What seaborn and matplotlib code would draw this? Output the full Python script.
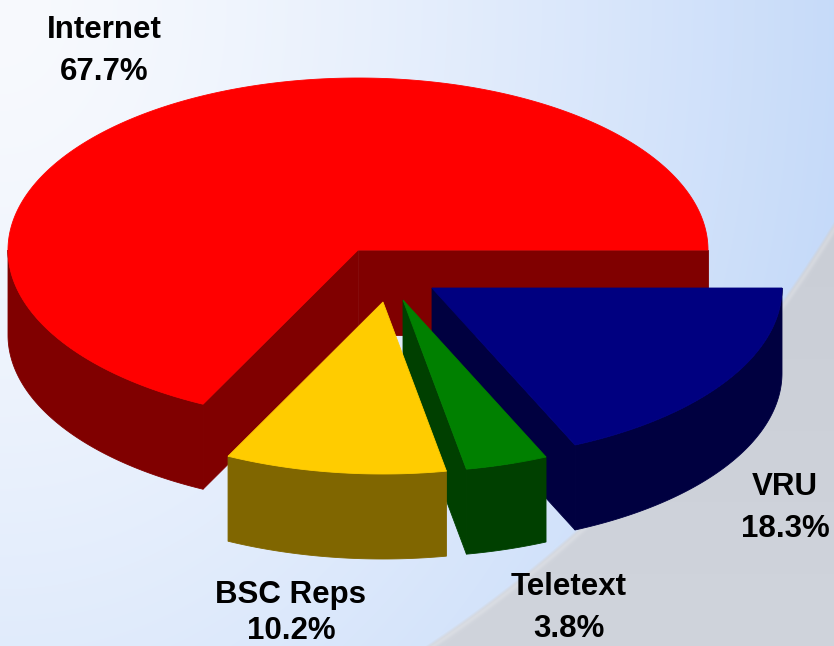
import numpy as np
import matplotlib
matplotlib.use("Agg")
import matplotlib.pyplot as plt
import seaborn as sns

# Channel share data (counter-clockwise from 3 o'clock)
categories = ["Internet", "BSC Reps", "Teletext", "VRU"]
shares = [67.7, 10.2, 3.8, 18.3]
top_colors = ["#FF0000", "#FFCC00", "#008000", "#000080"]
side_colors = ["#800000", "#806600", "#004000", "#000040"]

sns.set_theme(style="white")
plt.rcParams["font.family"] = ["Liberation Sans", "DejaVu Sans"]

W, H = 834, 646
fig = plt.figure(figsize=(W / 100, H / 100), dpi=100)
ax = fig.add_axes([0, 0, 1, 1])
ax.set_xlim(0, W)
ax.set_ylim(H, 0)
ax.axis("off")

# ---- backdrop: pale blue wash inside a large arc, grey outside ----
yy, xx = np.mgrid[0:H, 0:W] + 0.5
t = np.clip(np.hypot(0.85 * xx / W, 0.5 * yy / H), 0, 1) ** 1.4
t = t[..., None]
c0 = np.array([248, 250, 254]) / 255
c1 = np.array([186, 211, 248]) / 255
inner = c0 * (1 - t) + c1 * t
g = (yy / H)[..., None]
grey = (np.array([199, 203, 211]) / 255) * (1 - g) + (np.array([208, 212, 220]) / 255) * g
dist = np.hypot(xx + 326, yy + 486) - 1360
w = np.clip((dist + 1.5) / 3.0, 0, 1)[..., None]
bg = inner * (1 - w) + grey * w
# soft light rim along the arc
rim = np.exp(-((dist - 3) / 2.5) ** 2)[..., None] * 0.2
bg = np.clip(bg + rim * (1 - bg), 0, 1)
ax.imshow(bg, extent=(0, W, H, 0), zorder=0, interpolation="bilinear")

# ---- 3-D pie geometry ----
cx0, cy0 = 358, 250          # centre of the top face
a, b = 350, 172              # ellipse radii of the top face
depth = 85                   # slab thickness
explode = [(0, 0), (25, 52), (45, 50), (74, 38)]

total = sum(shares)
bounds = np.concatenate([[0], np.cumsum(shares)]) / total * 360.0


def rim_pt(cx, cy, deg, dz=0.0):
    r = np.deg2rad(deg)
    return cx + a * np.cos(r), cy - b * np.sin(r) + dz


def draw_slice(i, z):
    th1, th2 = bounds[i], bounds[i + 1]
    cx, cy = cx0 + explode[i][0], cy0 + explode[i][1]
    top, side = top_colors[i], side_colors[i]
    kw = dict(lw=0.6, zorder=z)

    # radial cut faces that turn toward the viewer
    for th, nrm in ((th1, th1 - 90), (th2, th2 + 90)):
        if np.sin(np.deg2rad(nrm)) < -1e-9:
            px, py = rim_pt(cx, cy, th)
            ax.fill([cx, px, px, cx], [cy, py, py + depth, cy + depth],
                    color=side, ec=side, **kw)

    # visible part of the curved outer wall (front half)
    lo, hi = max(th1, 180.0), min(th2, 360.0)
    if hi > lo:
        ang = np.linspace(lo, hi, 200)
        ux, uy = rim_pt(cx, cy, ang)
        ax.fill(np.concatenate([ux, ux[::-1]]),
                np.concatenate([uy, (uy + depth)[::-1]]),
                color=side, ec=side, **kw)

    # top face
    ang = np.linspace(th1, th2, 400)
    ux, uy = rim_pt(cx, cy, ang)
    ax.fill(np.concatenate([[cx], ux]), np.concatenate([[cy], uy]),
            color=top, ec=top, **kw)


# back-to-front drawing order
for z, i in enumerate([0, 3, 2, 1]):
    draw_slice(i, 2 + z)

# ---- labels ----
label_pos = [(104, 38), (291, 603), (569, 595), (785, 495)]
for name, val, (lx, ly) in zip(categories, shares, label_pos):
    step = 36 if name == "BSC Reps" else 42
    for k, s in enumerate([name, f"{val:.1f}%"]):
        ax.text(lx, ly + step * k, s, ha="center", va="baseline",
                fontsize=22.5, fontweight="bold", color="black", zorder=10)

fig.savefig("out.png", dpi=100)
